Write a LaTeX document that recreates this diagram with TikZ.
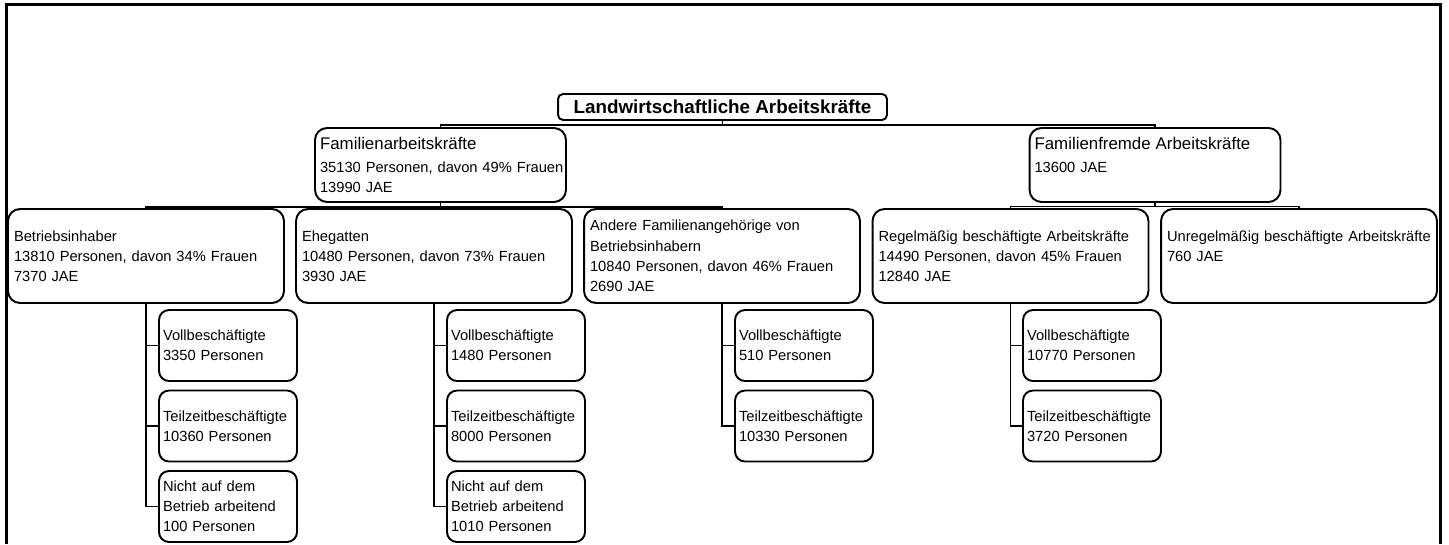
\documentclass[tikz,border=0pt]{standalone}
\usepackage{fontspec}
\setmainfont{Liberation Sans}
\begin{document}
\begin{tikzpicture}[x=0.02cm,y=-0.02cm,
  box/.style={draw=black, line width=1.1pt, inner ysep=0pt, align=left, anchor=center,
    font=\fontsize{8.36}{11.5}\selectfont},
  rootbox/.style={box, align=center, minimum width=6.58cm, minimum height=0.52cm,
    rounded corners=0.1cm, inner xsep=0pt, font=\fontsize{10.7}{12}\selectfont\bfseries},
  lvlone/.style={box, minimum width=5.02cm, minimum height=1.48cm, inner xsep=0.1cm,
    text width=4.82cm, rounded corners=0.24cm},
  lvltwo/.style={box, minimum width=5.52cm, minimum height=1.88cm, inner xsep=0.12cm,
    text width=5.28cm, rounded corners=0.24cm},
  leaf/.style={box, minimum width=2.76cm, minimum height=1.42cm, inner xsep=0.08cm,
    text width=2.60cm, rounded corners=0.2cm},
  conn/.style={draw=black, line width=0.8pt}]
\useasboundingbox (0,0) rectangle (1449,544);
% frame
\draw[line width=1.4pt] (6.5,544) -- (6.5,4.5) -- (1440.5,4.5) -- (1440.5,544);

\newcommand{\hd}[1]{{\fontsize{9.6}{12.5}\selectfont #1}}

\node[rootbox] (root) at (722.5,107) {Landwirtschaftliche Arbeitskräfte};

\node[lvlone] (fam) at (440.5,165) {\hd{Familienarbeitskräfte}\\[1.2pt]\mbox{35130 Personen, davon 49\% Frauen}\\13990 JAE};
\node[lvlone] (fremd) at (1155,165) {\hd{Familienfremde Arbeitskräfte}\\[1.2pt]13600 JAE\\\mbox{}};

\node[lvltwo] (bi) at (146,256) {Betriebsinhaber\\13810 Personen, davon 34\% Frauen\\7370 JAE};
\node[lvltwo] (eh) at (434,256) {Ehegatten\\10480 Personen, davon 73\% Frauen\\3930 JAE};
\node[lvltwo] (an) at (722,256) {Andere Familienangehörige von\\Betriebsinhabern\\10840 Personen, davon 46\% Frauen\\2690 JAE};
\node[lvltwo] (re) at (1010.5,256) {\mbox{Regelmäßig beschäftigte Arbeitskräfte}\\14490 Personen, davon 45\% Frauen\\12840 JAE};
\node[lvltwo] (un) at (1299,256) {\mbox{Unregelmäßig beschäftigte Arbeitskräfte}\\760 JAE\\\mbox{}};

\node[leaf] (bia) at (228,345.5) {Vollbeschäftigte\\3350 Personen};
\node[leaf] (bib) at (228,426) {Teilzeitbeschäftigte\\10360 Personen};
\node[leaf] (bic) at (228,506.5) {Nicht auf dem\\Betrieb arbeitend\\100 Personen};

\node[leaf] (eha) at (516,345.5) {Vollbeschäftigte\\1480 Personen};
\node[leaf] (ehb) at (516,426) {Teilzeitbeschäftigte\\8000 Personen};
\node[leaf] (ehc) at (516,506.5) {Nicht auf dem\\Betrieb arbeitend\\1010 Personen};

\node[leaf] (ana) at (804,345.5) {Vollbeschäftigte\\510 Personen};
\node[leaf] (anb) at (804,426) {Teilzeitbeschäftigte\\10330 Personen};

\node[leaf] (rea) at (1092,345.5) {Vollbeschäftigte\\10770 Personen};
\node[leaf] (reb) at (1092,426) {Teilzeitbeschäftigte\\3720 Personen};

% connectors
\draw[conn] (root.south) -- ++(0,4) -| (fam.north);
\draw[conn] (root.south) ++(0,4) -| (fremd.north);

\draw[conn] (fam.south) -- ++(0,4) -| (bi.north);
\draw[conn] (fam.south) ++(0,4) -| (eh.north);
\draw[conn] (fam.south) ++(0,4) -| (an.north);

\draw[conn] (fremd.south) -- ++(0,3.5) -| (re.north);
\draw[conn] (fremd.south) ++(0,3.5) -| (un.north);

\draw[conn] (bi.south) |- (bic.west);
\draw[conn] (bi.south) |- (bia.west);
\draw[conn] (bi.south) |- (bib.west);

\draw[conn] (eh.south) |- (ehc.west);
\draw[conn] (eh.south) |- (eha.west);
\draw[conn] (eh.south) |- (ehb.west);

\draw[conn] (an.south) |- (anb.west);
\draw[conn] (an.south) |- (ana.west);

\draw[conn] (re.south) |- (reb.west);
\draw[conn] (re.south) |- (rea.west);
\end{tikzpicture}
\end{document}
